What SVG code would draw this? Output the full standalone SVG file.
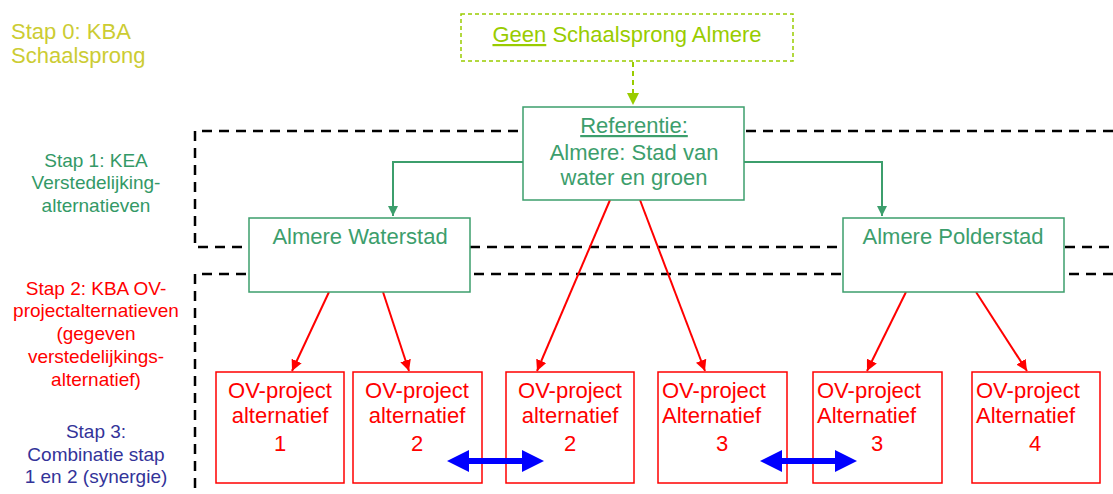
<svg xmlns="http://www.w3.org/2000/svg" width="1113" height="494" viewBox="0 0 1113 494">
  <defs>
    <style>
      text { font-family: "Liberation Sans", Arial, sans-serif; }
      .lbl { font-size: 19px; text-anchor: middle; }
      .big { font-size: 22px; }
      .mid { text-anchor: middle; }
      .zone { fill: none; stroke: #000; stroke-width: 2.5; stroke-dasharray: 10 7; }
      .gbox { fill: #fff; stroke: #3C9E6C; stroke-width: 1.5; }
      .gtxt { fill: #3C9E6C; }
      .rbox { fill: #fff; stroke: #FF0000; stroke-width: 1.5; }
      .rtxt { fill: #FF0000; }
      .gline { fill: none; stroke: #3C9E6C; stroke-width: 2; }
      .rline { fill: none; stroke: #FF0000; stroke-width: 2; }
    </style>
    <marker id="ag" viewBox="0 0 10 10" refX="10" refY="5" markerWidth="5" markerHeight="5" orient="auto" markerUnits="strokeWidth">
      <path d="M0,0 L10,5 L0,10 z" fill="#3C9E6C"/>
    </marker>
    <marker id="ar" viewBox="0 0 10 10" refX="10" refY="5" markerWidth="5.5" markerHeight="5.5" orient="auto" markerUnits="strokeWidth">
      <path d="M0,0 L10,5 L0,10 z" fill="#FF0000"/>
    </marker>
    <marker id="ay" viewBox="0 0 10 10" refX="10" refY="5" markerWidth="6" markerHeight="6" orient="auto" markerUnits="strokeWidth">
      <path d="M0,0 L10,5 L0,10 z" fill="#99CC00"/>
    </marker>
  </defs>

  <!-- step labels -->
  <g id="labels">
    <text x="11" y="39" class="big" fill="#CCCC33">Stap 0: KBA</text>
    <text x="11" y="63" class="big" fill="#CCCC33">Schaalsprong</text>
    <g class="lbl" fill="#339966">
      <text x="96" y="167">Stap 1: KEA</text>
      <text x="96" y="189">Verstedelijking-</text>
      <text x="96" y="212">alternatieven</text>
    </g>
    <g class="lbl" fill="#FF0000">
      <text x="96" y="295">Stap 2: KBA OV-</text>
      <text x="96" y="317">projectalternatieven</text>
      <text x="96" y="340">(gegeven</text>
      <text x="96" y="363">verstedelijkings-</text>
      <text x="96" y="386">alternatief)</text>
    </g>
    <g class="lbl" fill="#333399">
      <text x="96" y="438">Stap 3:</text>
      <text x="96" y="461">Combinatie stap</text>
      <text x="96" y="483">1 en 2 (synergie)</text>
    </g>
  </g>

  <!-- dashed phase zones -->
  <g id="zones">
    <path class="zone" d="M1113,131 H195 V247 H1113"/>
    <path class="zone" d="M1113,274 H195 V494"/>
  </g>

  <!-- connectors -->
  <g id="connectors">
    <path d="M633,62 V105" fill="none" stroke="#99CC00" stroke-width="2" stroke-dasharray="5 4" marker-end="url(#ay)"/>
    <path class="gline" d="M523,162 H393 V216" marker-end="url(#ag)"/>
    <path class="gline" d="M744,162 H882 V216" marker-end="url(#ag)"/>
    <path class="rline" d="M329,292 L292,371" marker-end="url(#ar)"/>
    <path class="rline" d="M383,292 L409,371" marker-end="url(#ar)"/>
    <path class="rline" d="M610,200 L537,371" marker-end="url(#ar)"/>
    <path class="rline" d="M640,200 L705,371" marker-end="url(#ar)"/>
    <path class="rline" d="M906,292 L867,371" marker-end="url(#ar)"/>
    <path class="rline" d="M976,292 L1027,371" marker-end="url(#ar)"/>
  </g>

  <!-- nodes -->
  <g id="geen">
    <rect x="461" y="14" width="332" height="47" fill="#fff" stroke="#99CC00" stroke-width="1.5" stroke-dasharray="4 3"/>
    <text x="627" y="42" class="big mid" fill="#99CC00"><tspan text-decoration="underline">Geen</tspan> Schaalsprong Almere</text>
  </g>
  <g id="referentie">
    <rect x="523" y="107" width="221" height="93" class="gbox"/>
    <text x="634" y="133" class="big mid gtxt" text-decoration="underline">Referentie:</text>
    <text x="634" y="160" class="big mid gtxt">Almere: Stad van</text>
    <text x="634" y="185" class="big mid gtxt">water en groen</text>
  </g>
  <g id="waterstad">
    <rect x="249" y="218" width="221" height="74" class="gbox"/>
    <text x="360" y="244" class="big mid gtxt">Almere Waterstad</text>
  </g>
  <g id="polderstad">
    <rect x="843" y="218" width="221" height="74" class="gbox"/>
    <text x="953" y="244" class="big mid gtxt">Almere Polderstad</text>
  </g>

  <g id="ov1">
    <rect x="216" y="372" width="128" height="111" class="rbox"/>
    <text x="280" y="398" class="big mid rtxt">OV-project</text>
    <text x="280" y="423" class="big mid rtxt">alternatief</text>
    <text x="280" y="451" class="big mid rtxt">1</text>
  </g>
  <g id="ov2a">
    <rect x="353" y="372" width="129" height="111" class="rbox"/>
    <text x="417" y="398" class="big mid rtxt">OV-project</text>
    <text x="417" y="423" class="big mid rtxt">alternatief</text>
    <text x="417" y="451" class="big mid rtxt">2</text>
  </g>
  <g id="ov2b">
    <rect x="506" y="372" width="128" height="111" class="rbox"/>
    <text x="570" y="398" class="big mid rtxt">OV-project</text>
    <text x="570" y="423" class="big mid rtxt">alternatief</text>
    <text x="570" y="451" class="big mid rtxt">2</text>
  </g>
  <g id="ov3a">
    <rect x="658" y="372" width="129" height="111" class="rbox"/>
    <text x="662" y="398" class="big rtxt">OV-project</text>
    <text x="662" y="423" class="big rtxt">Alternatief</text>
    <text x="722" y="451" class="big mid rtxt">3</text>
  </g>
  <g id="ov3b">
    <rect x="813" y="372" width="129" height="111" class="rbox"/>
    <text x="817" y="398" class="big rtxt">OV-project</text>
    <text x="817" y="423" class="big rtxt">Alternatief</text>
    <text x="877" y="451" class="big mid rtxt">3</text>
  </g>
  <g id="ov4">
    <rect x="972" y="372" width="128" height="111" class="rbox"/>
    <text x="976" y="398" class="big rtxt">OV-project</text>
    <text x="976" y="423" class="big rtxt">Alternatief</text>
    <text x="1035" y="451" class="big mid rtxt">4</text>
  </g>

  <!-- synergy links -->
  <g id="synergy" fill="#0000FF">
    <path d="M447,461 L469,450 L469,458 L522,458 L522,450 L544,461 L522,472 L522,464 L469,464 L469,472 Z"/>
    <path d="M760,461 L782,450 L782,458 L835,458 L835,450 L857,461 L835,472 L835,464 L782,464 L782,472 Z"/>
  </g>
</svg>
